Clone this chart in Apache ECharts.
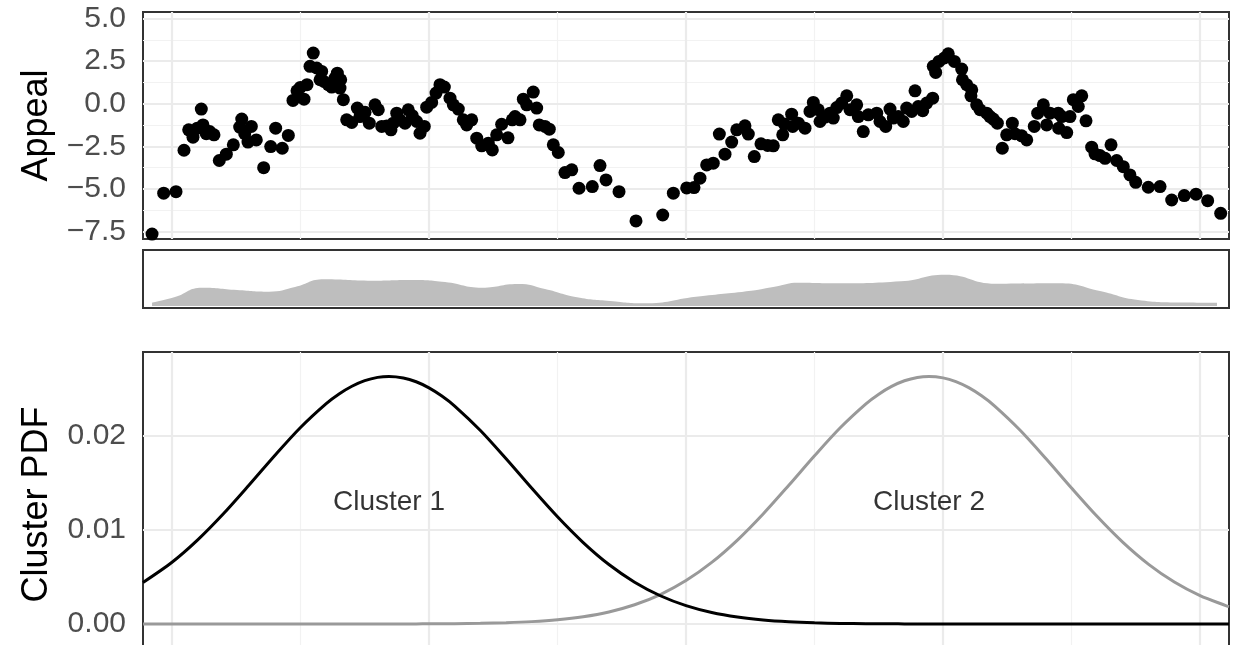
<!DOCTYPE html>
<html><head><meta charset="utf-8">
<script src="https://cdn.jsdelivr.net/npm/echarts@6/dist/echarts.min.js"></script>
<style>html,body{margin:0;padding:0;background:#fff}#c{width:1240px;height:645px}</style>
</head><body><div id="c"></div>
<script>
// ---- data ----
const appealX = [-2.33,-0.97,0.47,1.40,1.95,2.45,2.95,3.42,3.62,4.00,4.40,4.90,5.52,6.34,7.16,7.90,8.14,8.49,8.87,9.26,9.84,10.70,11.52,12.10,12.87,13.58,14.12,14.59,14.98,15.41,15.76,16.11,16.49,16.89,17.28,17.47,17.74,18.24,18.64,19.03,19.30,19.61,19.69,20.00,20.39,20.98,21.63,21.94,22.53,23.03,23.70,24.08,24.48,25.06,25.56,25.83,26.23,26.61,27.20,27.58,28.05,28.56,28.95,29.45,29.73,30.31,30.82,31.28,31.79,32.45,32.84,33.42,34.00,34.40,34.98,35.57,36.15,36.92,37.39,37.90,38.48,39.22,39.72,40.04,40.62,41.01,41.40,42.17,42.57,42.87,43.54,44.04,44.51,45.09,45.87,46.66,47.51,49.06,49.96,50.66,52.18,54.16,57.28,58.52,60.08,60.93,61.63,62.41,63.18,63.89,64.55,65.33,65.92,66.88,67.27,67.97,68.75,69.53,70.19,70.77,71.29,71.47,72.33,72.45,73.11,73.89,74.47,74.86,75.44,75.64,76.22,76.81,77.19,77.59,78.17,78.76,79.14,79.92,80.11,80.69,81.28,82.26,82.64,83.31,83.81,84.20,84.78,85.36,85.76,86.34,86.73,87.11,87.63,88.09,88.79,88.86,89.14,89.53,90.15,90.61,91.32,92.18,92.27,92.76,93.26,93.35,93.93,94.32,95.10,95.48,95.87,96.34,96.92,97.43,98.09,98.40,99.18,99.77,100.65,101.05,101.71,102.10,102.49,103.45,103.50,103.85,104.44,104.82,105.21,105.79,106.19,106.69,107.35,107.74,108.32,108.91,109.61,110.27,111.04,111.82,112.49,113.96,115.33,116.69,118.16,119.53,120.89,122.41];
const appealY = [-7.65,-5.25,-5.16,-2.73,-1.53,-1.96,-1.43,-0.31,-1.24,-1.76,-1.63,-1.82,-3.33,-2.96,-2.41,-1.37,-0.90,-1.76,-2.25,-1.33,-2.12,-3.75,-2.51,-1.43,-2.61,-1.86,0.20,0.76,0.96,0.27,1.12,2.20,2.98,2.10,1.41,1.90,1.31,1.12,0.98,1.51,1.80,0.92,1.41,0.24,-0.94,-1.10,-0.25,-0.75,-0.50,-1.14,-0.06,-0.35,-1.33,-1.30,-1.53,-1.14,-0.55,-0.94,-1.14,-0.35,-0.70,-1.04,-1.73,-1.33,-0.20,0.08,0.63,1.12,0.98,0.33,-0.06,-0.31,-0.94,-1.24,-0.94,-2.02,-2.47,-2.31,-2.71,-1.82,-1.20,-2.00,-0.94,-0.75,-0.94,0.27,-0.06,0.69,-0.25,-1.24,-1.33,-1.49,-2.41,-2.86,-4.04,-3.88,-4.96,-4.86,-3.63,-4.47,-5.16,-6.88,-6.53,-5.25,-4.94,-4.92,-4.37,-3.59,-3.49,-1.78,-2.96,-2.25,-1.53,-1.29,-1.78,-3.10,-2.35,-2.45,-2.47,-0.94,-1.82,-1.18,-0.61,-1.33,-1.14,-1.43,-0.45,0.08,-0.35,-1.04,-0.78,-0.55,-0.84,-0.22,0.04,0.47,-0.35,-0.06,-0.75,-1.63,-0.65,-0.55,-1.04,-1.33,-0.31,-0.84,-0.75,-1.04,-0.25,-0.45,0.76,-0.16,-0.41,0.04,0.33,2.20,1.84,2.49,2.69,2.94,2.49,2.04,1.41,1.12,0.47,0.82,-0.06,-0.35,-0.55,-0.75,-0.90,-1.14,-2.61,-1.82,-1.14,-1.76,-1.88,-2.12,-1.33,-0.55,-0.06,-1.24,-0.55,-0.55,-1.43,-0.75,-1.69,-0.75,0.24,-0.16,0.47,-1.00,-2.55,-2.94,-3.04,-3.20,-2.41,-3.33,-3.69,-4.18,-4.61,-4.90,-4.86,-5.65,-5.39,-5.31,-5.69,-6.43];

const densityX = [-2.33,0.35,3.50,7.59,11.32,14.36,17.74,23.35,27.90,31.87,36.19,40.39,43.54,47.28,51.13,55.10,61.16,67.59,70.50,73.07,77.74,85.10,90.23,96.18,103.54,108.32,112.75,117.66,121.98];
const densityY = [0.00165,0.0045,0.00915,0.0080,0.00715,0.0095,0.01335,0.01265,0.0130,0.0120,0.00915,0.0110,0.0085,0.00435,0.0025,0.00135,0.00465,0.00765,0.0098,0.01165,0.01135,0.01235,0.01565,0.01115,0.01135,0.0075,0.0030,0.00175,0.00165];

const pdfX = [-3.385,0,3,6,9,12,15,18,19.5,21,22.5,24,25.33,27,28.5,30,31.5,33,36,39,42,45,48,51,54,57,60,63,66,69,72,75,78,81,82.5,84,85.5,87,88.36,90,91.5,93,94.5,96,99,102,105,108,111,114,117,120,123,123.38];
const cluster1Pdf = [0.004405,0.006549,0.008923,0.011692,0.014740,0.017871,0.020837,0.023368,0.024388,0.025205,0.025799,0.026150,0.026250,0.026092,0.025685,0.025040,0.024174,0.023113,0.020517,0.017519,0.014385,0.011364,0.008634,0.006305,0.004431,0.002995,0.001946,0.001217,0.000732,0.000423,0.000236,0.000126,0.000065,0.000032,0.000022,0.000015,0.0000104,0.000007,0.0000048,0.000003,0.000002,0.000001,0.0000008,0.0000005,0,0,0,0,0,0,0,0,0,0];
const cluster2Pdf = [0,0,0,0,0,0,0,0.0000005,0.0000009,0.0000014,0.0000022,0.0000034,0.0000048,0.0000076,0.0000112,0.0000165,0.000024,0.0000346,0.0000696,0.000135,0.000251,0.000449,0.000773,0.001280,0.002040,0.003124,0.004604,0.006526,0.008896,0.011663,0.014708,0.017840,0.020808,0.023347,0.024370,0.025192,0.025790,0.026145,0.026250,0.026098,0.025696,0.025056,0.024193,0.023134,0.020546,0.017551,0.014419,0.011393,0.008657,0.006326,0.004449,0.003008,0.001956,0.001846];

const clusterNames = ['Cluster 1','Cluster 2'];
const clusterLabelX = [25.33, 88.36];
const clusterLabelY = [0.0129, 0.0129];

const xMajor = [0,30,60,90,120];
const xMinor = [15,45,75,105];
const appealTicks = [-7.5,-5,-2.5,0,2.5,5];
const appealTickLabels = ['\u22127.5','\u22125.0','\u22122.5','0.0','2.5','5.0'];
const appealMinor = [-6.25,-3.75,-1.25,1.25,3.75];
const pdfTicks = [0,0.01,0.02];
const pdfTickLabels = ['0.00','0.01','0.02'];
const pdfMinor = [0.005,0.015,0.025];

// ---- chart ----
const FONT = 'Liberation Sans, Arial, Helvetica, sans-serif';
const X_MIN = -3.385, X_MAX = 123.38;
const chart = echarts.init(document.getElementById('c'), null, {renderer:'canvas'});

function gridLineSeries(gi, xs, ys, color, width) {
  return {
    type:'line', xAxisIndex:gi, yAxisIndex:gi, data:[], silent:true, z:1,
    markLine:{
      silent:true, symbol:['none','none'], z:1, animation:false,
      label:{show:false}, emphasis:{disabled:true},
      lineStyle:{color:color, width:width, type:'solid'},
      data: xs.map(v=>({xAxis:v})).concat(ys.map(v=>({yAxis:v})))
    }
  };
}
function labelMap(ticks, labels){ return v => { const i = ticks.findIndex(t=>Math.abs(t-v)<1e-9); return i>=0?labels[i]:''; }; }

const border = {show:true, borderColor:'#333333', borderWidth:2, backgroundColor:'transparent', outerBoundsMode:'none', containLabel:false};
const hiddenX = gi => ({type:'value', gridIndex:gi, min:X_MIN, max:X_MAX, show:false, splitLine:{show:false}});

const option = {
  animation:false,
  backgroundColor:'#ffffff',
  grid:[
    Object.assign({left:143, top:12, width:1086, height:227}, border),
    Object.assign({left:143, top:250, width:1086, height:58}, border),
    Object.assign({left:143, top:352, width:1086, height:305}, border)
  ],
  xAxis:[hiddenX(0), hiddenX(1), hiddenX(2)],
  yAxis:[
    {type:'value', gridIndex:0, min:-7.94, max:5.39,
     name:'Appeal', nameLocation:'middle', nameGap:88, nameRotate:90,
     nameTextStyle:{fontSize:36, color:'#000', fontFamily:FONT},
     axisLine:{show:false},
     axisTick:{show:true, length:8, customValues:appealTicks, lineStyle:{color:'#333', width:1.5}},
     axisLabel:{show:true, customValues:appealTicks, formatter:labelMap(appealTicks, appealTickLabels), fontSize:30, color:'#4d4d4d', fontFamily:FONT, margin:17},
     splitLine:{show:false}},
    {type:'value', gridIndex:1, min:-0.001, max:0.028, show:false, splitLine:{show:false}},
    {type:'value', gridIndex:2, min:-0.0035, max:0.02884,
     name:'Cluster PDF', nameLocation:'middle', nameGap:88, nameRotate:90,
     nameTextStyle:{fontSize:36, color:'#000', fontFamily:FONT},
     axisLine:{show:false},
     axisTick:{show:true, length:8, customValues:pdfTicks, lineStyle:{color:'#333', width:1.5}},
     axisLabel:{show:true, customValues:pdfTicks, formatter:labelMap(pdfTicks, pdfTickLabels), fontSize:30, color:'#4d4d4d', fontFamily:FONT, margin:17},
     splitLine:{show:false}}
  ],
  series:[
    gridLineSeries(0, xMinor, appealMinor, '#f2f2f2', 1.2),
    gridLineSeries(0, xMajor, appealTicks, '#ebebeb', 2.2),
    gridLineSeries(2, xMinor, pdfMinor, '#f2f2f2', 1.2),
    gridLineSeries(2, xMajor, pdfTicks, '#ebebeb', 2.2),
    {type:'scatter', xAxisIndex:0, yAxisIndex:0, z:3, symbol:'circle', symbolSize:13,
     itemStyle:{color:'#000', opacity:1}, silent:true,
     data: appealX.map((x,i)=>[x, appealY[i]])},
    {type:'line', xAxisIndex:1, yAxisIndex:1, z:2, smooth:0.5, showSymbol:false, silent:true,
     lineStyle:{width:0}, areaStyle:{color:'#bebebe', opacity:1},
     data: densityX.map((x,i)=>[x, densityY[i]])},
    {type:'line', xAxisIndex:2, yAxisIndex:2, z:3, smooth:0.3, showSymbol:false, silent:true,
     lineStyle:{color:'#999999', width:3},
     data: pdfX.map((x,i)=>[x, cluster2Pdf[i]])},
    {type:'line', xAxisIndex:2, yAxisIndex:2, z:4, smooth:0.3, showSymbol:false, silent:true,
     lineStyle:{color:'#000000', width:3},
     data: pdfX.map((x,i)=>[x, cluster1Pdf[i]])},
    {type:'scatter', xAxisIndex:2, yAxisIndex:2, z:5, symbolSize:0, silent:true,
     label:{show:true, position:'inside', formatter:p=>p.name, fontSize:28, color:'#000', fontFamily:FONT},
     data: clusterNames.map((n,i)=>({name:n, value:[clusterLabelX[i], clusterLabelY[i]]}))}
  ]
};
chart.setOption(option);
</script>
</body></html>
